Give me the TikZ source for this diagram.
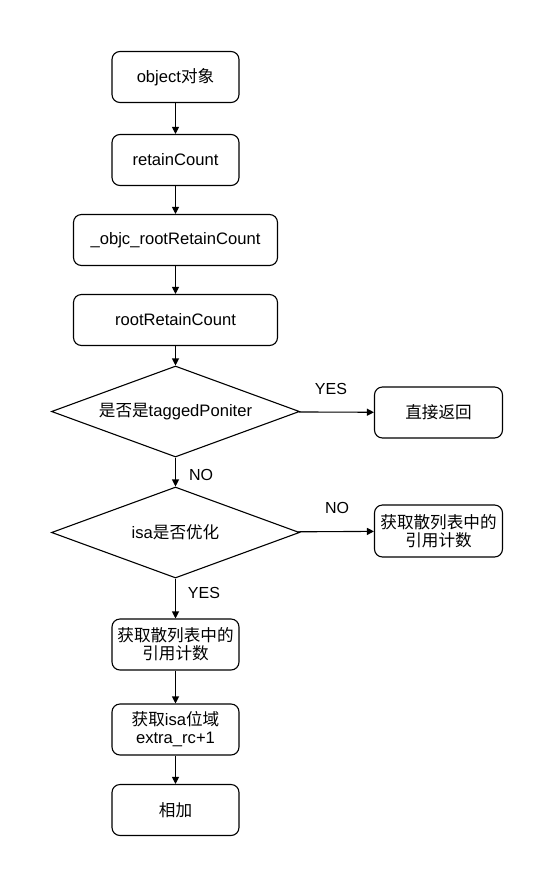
\documentclass[tikz,border=0pt]{standalone}
\usepackage{fontspec}
\setmainfont{Liberation Sans}
\newfontfamily\cjk{Noto Sans CJK SC}
\usetikzlibrary{shapes.geometric,arrows.meta}
\begin{document}
\begin{tikzpicture}[x=1pt,y=-1pt,
  every node/.style={font=\fontsize{16.6}{20}\selectfont},
  box/.style={draw=black,line width=1.1pt,rounded corners=8pt,minimum height=51pt,inner sep=0pt,align=center},
  dec/.style={draw=black,line width=1.1pt,diamond,aspect=2.76,minimum width=248pt,minimum height=91pt,inner sep=0pt},
  arr/.style={line width=1.1pt,-{Triangle[length=7pt,width=7pt]}},
  lbl/.style={inner sep=0pt,font=\fontsize{16}{18}\selectfont}]
\useasboundingbox (0,0) rectangle (553,887);
\node[box,minimum width=127pt] (a) at (175.5,77) {object{\cjk 对象}};
\node[box,minimum width=127pt] (b) at (175.5,160) {retainCount};
\node[box,minimum width=204pt] (c) at (175.5,240) {\_objc\_rootRetainCount};
\node[box,minimum width=204pt] (d) at (175.5,320) {rootRetainCount};
\node[dec] (e) at (175.5,411.5) {{\cjk 是否是}taggedPoniter};
\node[box,minimum width=128pt] (f) at (438.5,412.5) {\cjk 直接返回};
\node[dec] (g) at (175.5,532.5) {isa{\cjk 是否优化}};
\node[box,minimum width=128pt,minimum height=52pt] (h) at (438.5,531) {\cjk 获取散列表中的\\[-2pt]\cjk 引用计数};
\node[box,minimum width=127pt] (i) at (175.5,644.5) {\cjk 获取散列表中的\\[-2pt]\cjk 引用计数};
\node[box,minimum width=127pt] (j) at (175.5,729.5) {{\cjk 获取}isa{\cjk 位域}\\[-2pt]extra\_rc+1};
\node[box,minimum width=127pt] (k) at (175.5,810) {\cjk 相加};
\draw[arr] (a) -- (b);
\draw[arr] (b) -- (c);
\draw[arr] (c) -- (d);
\draw[arr] (d) -- (e);
\draw[arr] (e) -- (f);
\draw[arr] (e) -- (g);
\draw[arr] (g) -- (h);
\draw[arr] (g) -- (i);
\draw[arr] (i) -- (j);
\draw[arr] (j) -- (k);
\node[lbl] (l1) at (331,389) {YES};
\node[lbl] (l2) at (201,475) {NO};
\node[lbl] (l3) at (337,508) {NO};
\node[lbl] (l4) at (204,593) {YES};
\end{tikzpicture}
\end{document}
